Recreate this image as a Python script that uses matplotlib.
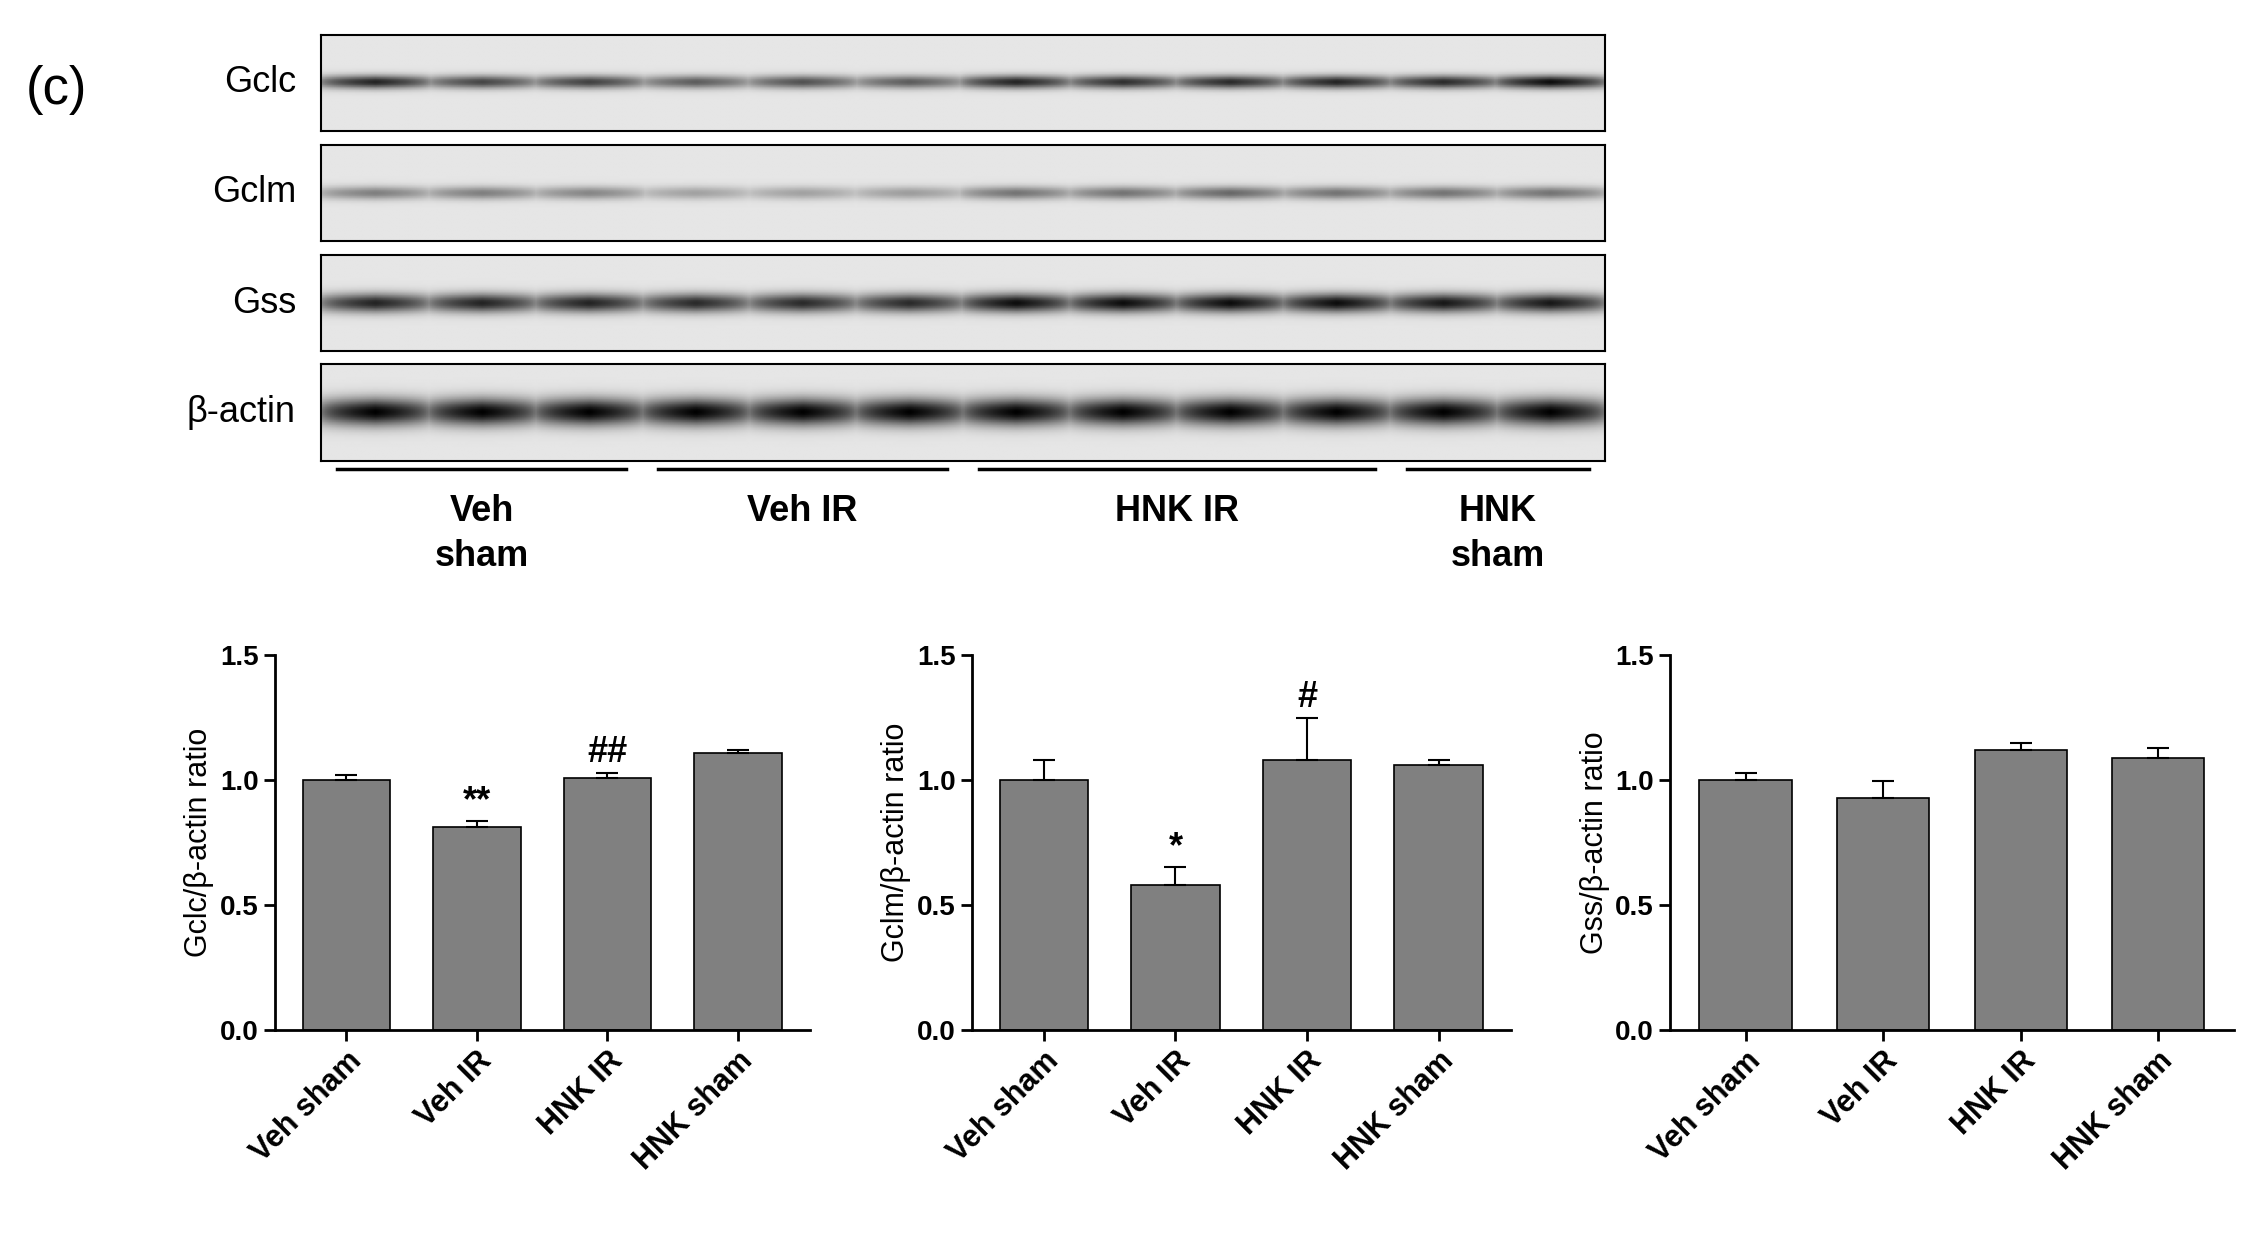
import numpy as np
import matplotlib.pyplot as plt

# Blot data (relative band darkness per lane, 12 lanes)
blot_rows = ['Gclc', 'Gclm', 'Gss', 'β-actin']
band_gclc = [0.85, 0.7, 0.72, 0.6, 0.65, 0.6, 0.85, 0.8, 0.82, 0.85, 0.82, 0.95]
band_gclm = [0.45, 0.45, 0.42, 0.3, 0.3, 0.32, 0.5, 0.5, 0.55, 0.5, 0.5, 0.5]
band_gss = [0.85, 0.85, 0.85, 0.82, 0.82, 0.82, 0.95, 0.95, 0.95, 0.95, 0.9, 0.9]
band_actin = [1.0, 1.0, 1.0, 1.0, 1.0, 1.0, 1.0, 1.0, 1.0, 1.0, 1.0, 1.0]
band_width = [0.35, 0.35, 0.5, 0.7]
group_labels = ['Veh\nsham', 'Veh IR', 'HNK IR', 'HNK\nsham']
group_lanes = [(0, 2), (3, 5), (6, 9), (10, 11)]

# Bar data
groups = ['Veh sham', 'Veh IR', 'HNK IR', 'HNK sham']
gclc = [1.0, 0.81, 1.01, 1.11]
gclc_err = [0.02, 0.025, 0.02, 0.012]
gclm = [1.0, 0.58, 1.08, 1.06]
gclm_err = [0.08, 0.07, 0.17, 0.02]
gss = [1.0, 0.93, 1.12, 1.09]
gss_err = [0.03, 0.065, 0.03, 0.04]
gclc_marks = ['', '**', '##', '']
gclm_marks = ['', '*', '#', '']
gss_marks = ['', '', '', '']

plt.rcParams['font.family'] = ['Liberation Sans', 'DejaVu Sans']
plt.rcParams['font.weight'] = 'bold'

fig = plt.figure(figsize=(22.67, 12.47), dpi=100)
W, H = 1568.0, 860.0

def rect(x0, y0, x1, y1):
    return [x0 / W, 1 - y1 / H, (x1 - x0) / W, (y1 - y0) / H]

# blots
bands = [band_gclc, band_gclm, band_gss, band_actin]
row_y = [(24, 90), (100, 166), (176, 242), (251, 318)]
n = len(band_gclc)
xs = np.linspace(0, n, 600)
ys = np.linspace(-1, 1, 60)
for name, vals, (y0, y1), bw in zip(blot_rows, bands, row_y, band_width):
    ax = fig.add_axes(rect(222, y0, 1110, y1))
    img = np.zeros((len(ys), len(xs)))
    for i, v in enumerate(vals):
        c = i + 0.5
        prof_x = np.clip(1 - np.abs(xs - c) / 0.55, 0, 1) ** 0.3
        prof_y = np.exp(-(ys[:, None] / (bw * 0.4)) ** 2)
        img = np.maximum(img, v * prof_x[None, :] * prof_y)
    ax.imshow(0.1 + 0.9 * img, cmap='gray_r', vmin=0, vmax=1, aspect='auto',
              extent=[0, n, -1, 1])
    ax.set_xticks([])
    ax.set_yticks([])
    for s in ax.spines.values():
        s.set_linewidth(1.5)
    ax.set_ylabel(name, rotation=0, fontsize=26, ha='right', va='center', labelpad=18)

# group lines and labels
lax = fig.add_axes(rect(222, 318, 1110, 430))
lax.set_xlim(0, n)
lax.set_ylim(1, 0)
lax.axis('off')
for lab, (a, b) in zip(group_labels, group_lanes):
    lax.plot([a + 0.15, b + 0.85], [0.05, 0.05], color='black', lw=2.5)
    lax.text((a + b + 1) / 2, 0.2, lab, ha='center', va='top', fontsize=26,
             linespacing=1.4)

fig.text(18 / W, 1 - 72 / H, '(c)', fontsize=38, fontweight='normal')

# bar panels
panels = [
    (gclc, gclc_err, gclc_marks, 'Gclc/β-actin ratio', (190, 560)),
    (gclm, gclm_err, gclm_marks, 'Gclm/β-actin ratio', (672, 1045)),
    (gss, gss_err, gss_marks, 'Gss/β-actin ratio', (1155, 1545)),
]
for vals, errs, marks, ylab, (x0, x1) in panels:
    ax = fig.add_axes(rect(x0, 452, x1, 710))
    x = np.arange(len(groups))
    ax.bar(x, vals, width=0.67, color='#808080', edgecolor='black', lw=1.2)
    ax.errorbar(x, vals, yerr=[np.zeros(len(errs)), errs], fmt='none',
                ecolor='black', elinewidth=1.5, capsize=8, capthick=1.5)
    for xi, v, e, m in zip(x, vals, errs, marks):
        if m:
            ax.text(xi, v + e + 0.01, m, ha='center', va='bottom', fontsize=26)
    ax.set_xlim(-0.55, 3.55)
    ax.set_ylim(0, 1.5)
    ax.set_yticks([0, 0.5, 1.0, 1.5])
    ax.set_yticklabels(['0.0', '0.5', '1.0', '1.5'], fontsize=20)
    ax.set_xticks(x)
    ax.set_xticklabels(groups, rotation=45, ha='right', rotation_mode='anchor',
                       fontsize=22)
    ax.set_ylabel(ylab, fontsize=22)
    ax.spines['top'].set_visible(False)
    ax.spines['right'].set_visible(False)
    ax.spines['left'].set_linewidth(2)
    ax.spines['bottom'].set_linewidth(2)
    ax.tick_params(width=2, length=8)

fig.savefig('out.png', dpi=100)
